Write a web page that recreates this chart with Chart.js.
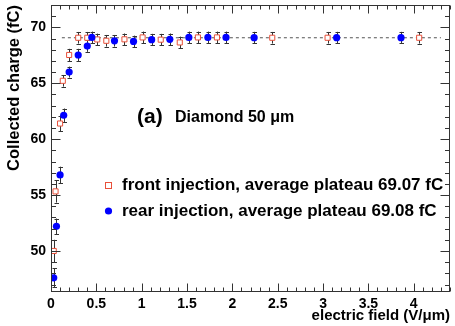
<!DOCTYPE html>
<html><head><meta charset="utf-8">
<script src="https://cdn.jsdelivr.net/npm/chart.js@4/dist/chart.umd.min.js"></script>
<style>html,body{margin:0;padding:0;background:#fff}canvas{display:block}</style>
</head><body>
<canvas id="c" width="455" height="326"></canvas>
<script>
// ---- data ----
const frontField  = [0.03, 0.05, 0.10, 0.13, 0.20, 0.30, 0.40, 0.51, 0.61, 0.81, 1.01, 1.21, 1.42, 1.62, 1.83, 2.44, 3.05, 4.06];
const frontCharge = [50.0, 55.33, 61.4, 65.22, 67.53, 69.07, 69.07, 68.92, 68.8, 68.93, 69.1, 68.9, 68.65, 69.1, 69.1, 69.07, 69.07, 69.07];
const frontErr    = [1.0, 1.0, 0.7, 0.52, 0.55, 0.52, 0.52, 0.52, 0.52, 0.52, 0.52, 0.52, 0.52, 0.52, 0.52, 0.52, 0.52, 0.52];
const rearField   = [0.03, 0.06, 0.10, 0.14, 0.20, 0.30, 0.40, 0.45, 0.70, 0.91, 1.11, 1.31, 1.52, 1.73, 1.93, 2.24, 3.15, 3.86];
const rearCharge  = [47.6, 52.2, 56.8, 62.14, 66.0, 67.53, 68.33, 69.1, 68.8, 68.74, 68.9, 68.93, 69.1, 69.1, 69.1, 69.08, 69.08, 69.08];
const rearErr     = [0.85, 0.7, 0.74, 0.6, 0.49, 0.55, 0.52, 0.52, 0.52, 0.52, 0.52, 0.52, 0.52, 0.52, 0.52, 0.52, 0.52, 0.52];
const plateauField  = [0.12, 4.3];
const plateauCharge = [69.07, 69.07];
const xTicks = [0, 0.5, 1, 1.5, 2, 2.5, 3, 3.5, 4];
const yTicks = [50, 55, 60, 65, 70];
const legendLabels = ["front injection, average plateau 69.07 fC", "rear injection, average plateau 69.08 fC"];
const panelLabel = "(a)";
const panelText = "Diamond 50 \u03bcm";
const xTitle = "electric field (V/\u03bcm)";
const yTitle = "Collected charge (fC)";

const FONT = "'Liberation Sans', Arial, Helvetica, sans-serif";
const RED = '#e8503a', BLUE = '#0000ff';

const toPts = (xs, ys) => xs.map((x, i) => ({x, y: ys[i]}));

const decor = {
  id: 'decor',
  beforeDatasetsDraw(chart) {
    const {ctx, scales: {x, y}} = chart;
    ctx.save();
    ctx.strokeStyle = '#333';
    ctx.lineWidth = 1;
    const bars = [[frontField, frontCharge, frontErr], [rearField, rearCharge, rearErr]];
    bars.forEach(([xs, ys, es]) => {
      xs.forEach((xv, i) => {
        const px = Math.round(x.getPixelForValue(xv)) + 0.5;
        const y1 = y.getPixelForValue(ys[i] + es[i]);
        const y2 = y.getPixelForValue(ys[i] - es[i]);
        ctx.beginPath();
        ctx.moveTo(px, y1); ctx.lineTo(px, y2);
        ctx.moveTo(px - 2, Math.round(y1) + 0.5); ctx.lineTo(px + 2.5, Math.round(y1) + 0.5);
        ctx.moveTo(px - 2, Math.round(y2) + 0.5); ctx.lineTo(px + 2.5, Math.round(y2) + 0.5);
        ctx.stroke();
      });
    });
    ctx.restore();
  },
  afterDraw(chart) {
    const {ctx, chartArea: a, scales: {x, y}} = chart;
    ctx.save();
    ctx.strokeStyle = '#333';
    ctx.lineWidth = 1;
    const L = Math.round(a.left) + 0.5, R = Math.round(a.right) - 0.5;
    const T = Math.round(a.top) + 0.5, B = Math.round(a.bottom) - 0.5;
    ctx.strokeRect(L, T, R - L, B - T);
    ctx.beginPath();
    for (let k = 0; k <= 44; k++) {
      const v = k / 10;
      const px = Math.round(x.getPixelForValue(v)) + 0.5;
      const len = (k % 5 === 0) ? 8 : 4;
      ctx.moveTo(px, B); ctx.lineTo(px, B - len);
      ctx.moveTo(px, T); ctx.lineTo(px, T + len);
    }
    for (let v = 47; v <= 72; v++) {
      const py = Math.round(y.getPixelForValue(v)) + 0.5;
      const len = (v % 5 === 0) ? 9 : 4.5;
      ctx.moveTo(L, py); ctx.lineTo(L + len, py);
      ctx.moveTo(R, py); ctx.lineTo(R - len, py);
    }
    ctx.stroke();

    ctx.fillStyle = '#000';
    ctx.textBaseline = 'middle';
    ctx.textAlign = 'left';
    ctx.font = `bold 21px ${FONT}`;
    ctx.fillText(panelLabel, 137, 117);
    ctx.font = `bold 16px ${FONT}`;
    ctx.fillText(panelText, 175, 118);

    const lx = 108, ly1 = 185, ly2 = 211;
    ctx.strokeStyle = RED; ctx.lineWidth = 1;
    ctx.fillStyle = '#fff';
    ctx.fillRect(lx - 3, ly1 - 3, 6, 6);
    ctx.strokeRect(lx - 3 + 0.5, ly1 - 3 + 0.5, 6, 6);
    ctx.fillStyle = BLUE;
    ctx.beginPath(); ctx.arc(lx + 0.5, ly2, 3.6, 0, Math.PI * 2); ctx.fill();
    ctx.fillStyle = '#000';
    ctx.font = `bold 17px ${FONT}`;
    ctx.fillText(legendLabels[0], 122, ly1);
    ctx.fillText(legendLabels[1], 122, ly2);
    ctx.restore();
  }
};

new Chart(document.getElementById('c'), {
  type: 'scatter',
  data: {
    datasets: [
      { label: 'plateau', type: 'line', data: toPts(plateauField, plateauCharge),
        borderColor: '#555', borderWidth: 1, borderDash: [3, 3], pointRadius: 0, fill: false, order: 3 },
      { label: legendLabels[0], data: toPts(frontField, frontCharge), pointStyle: 'rect',
        pointRadius: 3.6, borderColor: RED, backgroundColor: '#fff', pointBorderWidth: 1, order: 2 },
      { label: legendLabels[1], data: toPts(rearField, rearCharge), pointStyle: 'circle',
        pointRadius: 3.6, borderColor: BLUE, backgroundColor: BLUE, pointBorderWidth: 0, order: 1 }
    ]
  },
  options: {
    responsive: false, animation: false, devicePixelRatio: 1,
    layout: { padding: { left: 0, right: 5, top: 5, bottom: 0 } },
    plugins: { legend: { display: false }, tooltip: { enabled: false } },
    scales: {
      x: {
        type: 'linear', min: 0, max: 4.4,
        afterBuildTicks: s => { s.ticks = xTicks.map(v => ({value: v})); },
        afterFit: s => { s.height = 34; s.paddingLeft = 0; s.paddingRight = 0; },
        grid: { display: false, drawTicks: false },
        border: { display: false },
        ticks: { color: '#000', padding: 4, font: { family: FONT, size: 14, weight: 'bold' }, maxRotation: 0,
                 callback: v => String(v) },
        title: { display: true, text: xTitle, align: 'end', color: '#000',
                 font: { family: FONT, size: 15, weight: 'bold' }, padding: { top: 0, bottom: 1 } }
      },
      y: {
        type: 'linear', min: 46.33, max: 72,
        afterBuildTicks: s => { s.ticks = yTicks.map(v => ({value: v})); },
        afterFit: s => { s.width = 51; s.paddingTop = 0; s.paddingBottom = 0; },
        grid: { display: false, drawTicks: false },
        border: { display: false },
        ticks: { color: '#000', padding: 5, font: { family: FONT, size: 14, weight: 'bold' },
                 callback: v => String(v) },
        title: { display: true, text: yTitle, align: 'end', color: '#000',
                 font: { family: FONT, size: 16.5, weight: 'bold' }, padding: { top: 5, bottom: 0 } }
      }
    }
  },
  plugins: [decor]
});
</script>
</body></html>
